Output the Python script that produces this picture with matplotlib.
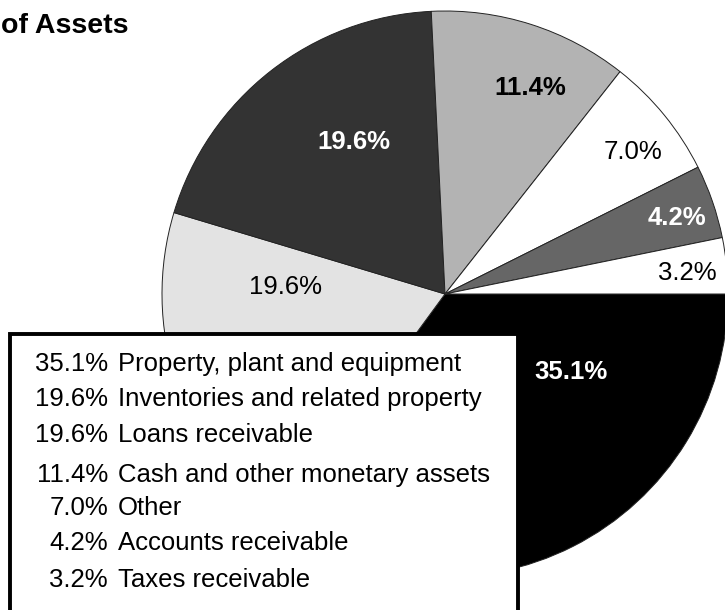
import matplotlib
matplotlib.use("Agg")
import matplotlib.pyplot as plt
from matplotlib.patches import Rectangle

# ---- data ----
categories = ["Property, plant and equipment", "Inventories and related property",
              "Loans receivable", "Cash and other monetary assets", "Other",
              "Accounts receivable", "Taxes receivable"]
shares = [35.1, 19.6, 19.6, 11.4, 7.0, 4.2, 3.2]
pct_labels = ["35.1%", "19.6%", "19.6%", "11.4%", "7.0%", "4.2%", "3.2%"]

# ---- styles ----
colors = ["#000000", "#e3e3e3", "#333333", "#b3b3b3", "#ffffff", "#666666", "#ffffff"]
label_colors = ["white", "black", "white", "black", "black", "white", "black"]
label_weights = ["bold", "normal", "bold", "bold", "normal", "bold", "normal"]
# label positions (data units, pie radius = 1)
label_pos = [(0.445, -0.276), (-0.565, 0.025), (-0.322, 0.537), (0.300, 0.728),
             (0.664, 0.502), (0.820, 0.269), (0.855, 0.074)]

plt.rcParams["font.family"] = ["Liberation Sans", "DejaVu Sans"]

W, H, DPI = 725, 610, 100
fig = plt.figure(figsize=(W / DPI, H / DPI), dpi=DPI)
ax = fig.add_axes([0, 0, 1, 1])

cx, cy, R = 445.0, 294.0, 283.0  # pixel centre and radius


def px(x, y):
    return (x - cx) / R, (cy - y) / R


ax.pie(shares, colors=colors, startangle=0, counterclock=False, radius=1,
       center=(0, 0), wedgeprops=dict(edgecolor="#222222", linewidth=0.7))

for (lx, ly), t, c, w in zip(label_pos, pct_labels, label_colors, label_weights):
    ax.text(lx, ly, t, color=c, fontweight=w, fontsize=18.5,
            ha="center", va="center", zorder=5)

# legend box
x0, ytop = px(9.5, 334)
x1, _ = px(517.5, 334)
_, ybot = px(0, 700)
ax.add_patch(Rectangle((x0, ybot), x1 - x0, ytop - ybot, facecolor="white",
                       edgecolor="black", linewidth=2.8, zorder=10))

row_baselines = [371, 406, 442, 482, 515, 550, 587]
for yb, p, name in zip(row_baselines, pct_labels, categories):
    xp, yy = px(108, yb)
    xl, _ = px(118, yb)
    ax.text(xp, yy, p, ha="right", va="baseline", fontsize=18.5, zorder=11)
    ax.text(xl, yy, name, ha="left", va="baseline", fontsize=18.5, zorder=11)

ax.set_xlim(px(0, 0)[0], px(W, 0)[0])
ax.set_ylim(px(0, H)[1], px(0, 0)[1])
ax.set_aspect("auto")
ax.axis("off")

fig.text(1 / W, 1 - 33 / H, "of Assets", fontsize=20.5, fontweight="bold",
         ha="left", va="baseline")

fig.savefig("out.png", dpi=DPI)
